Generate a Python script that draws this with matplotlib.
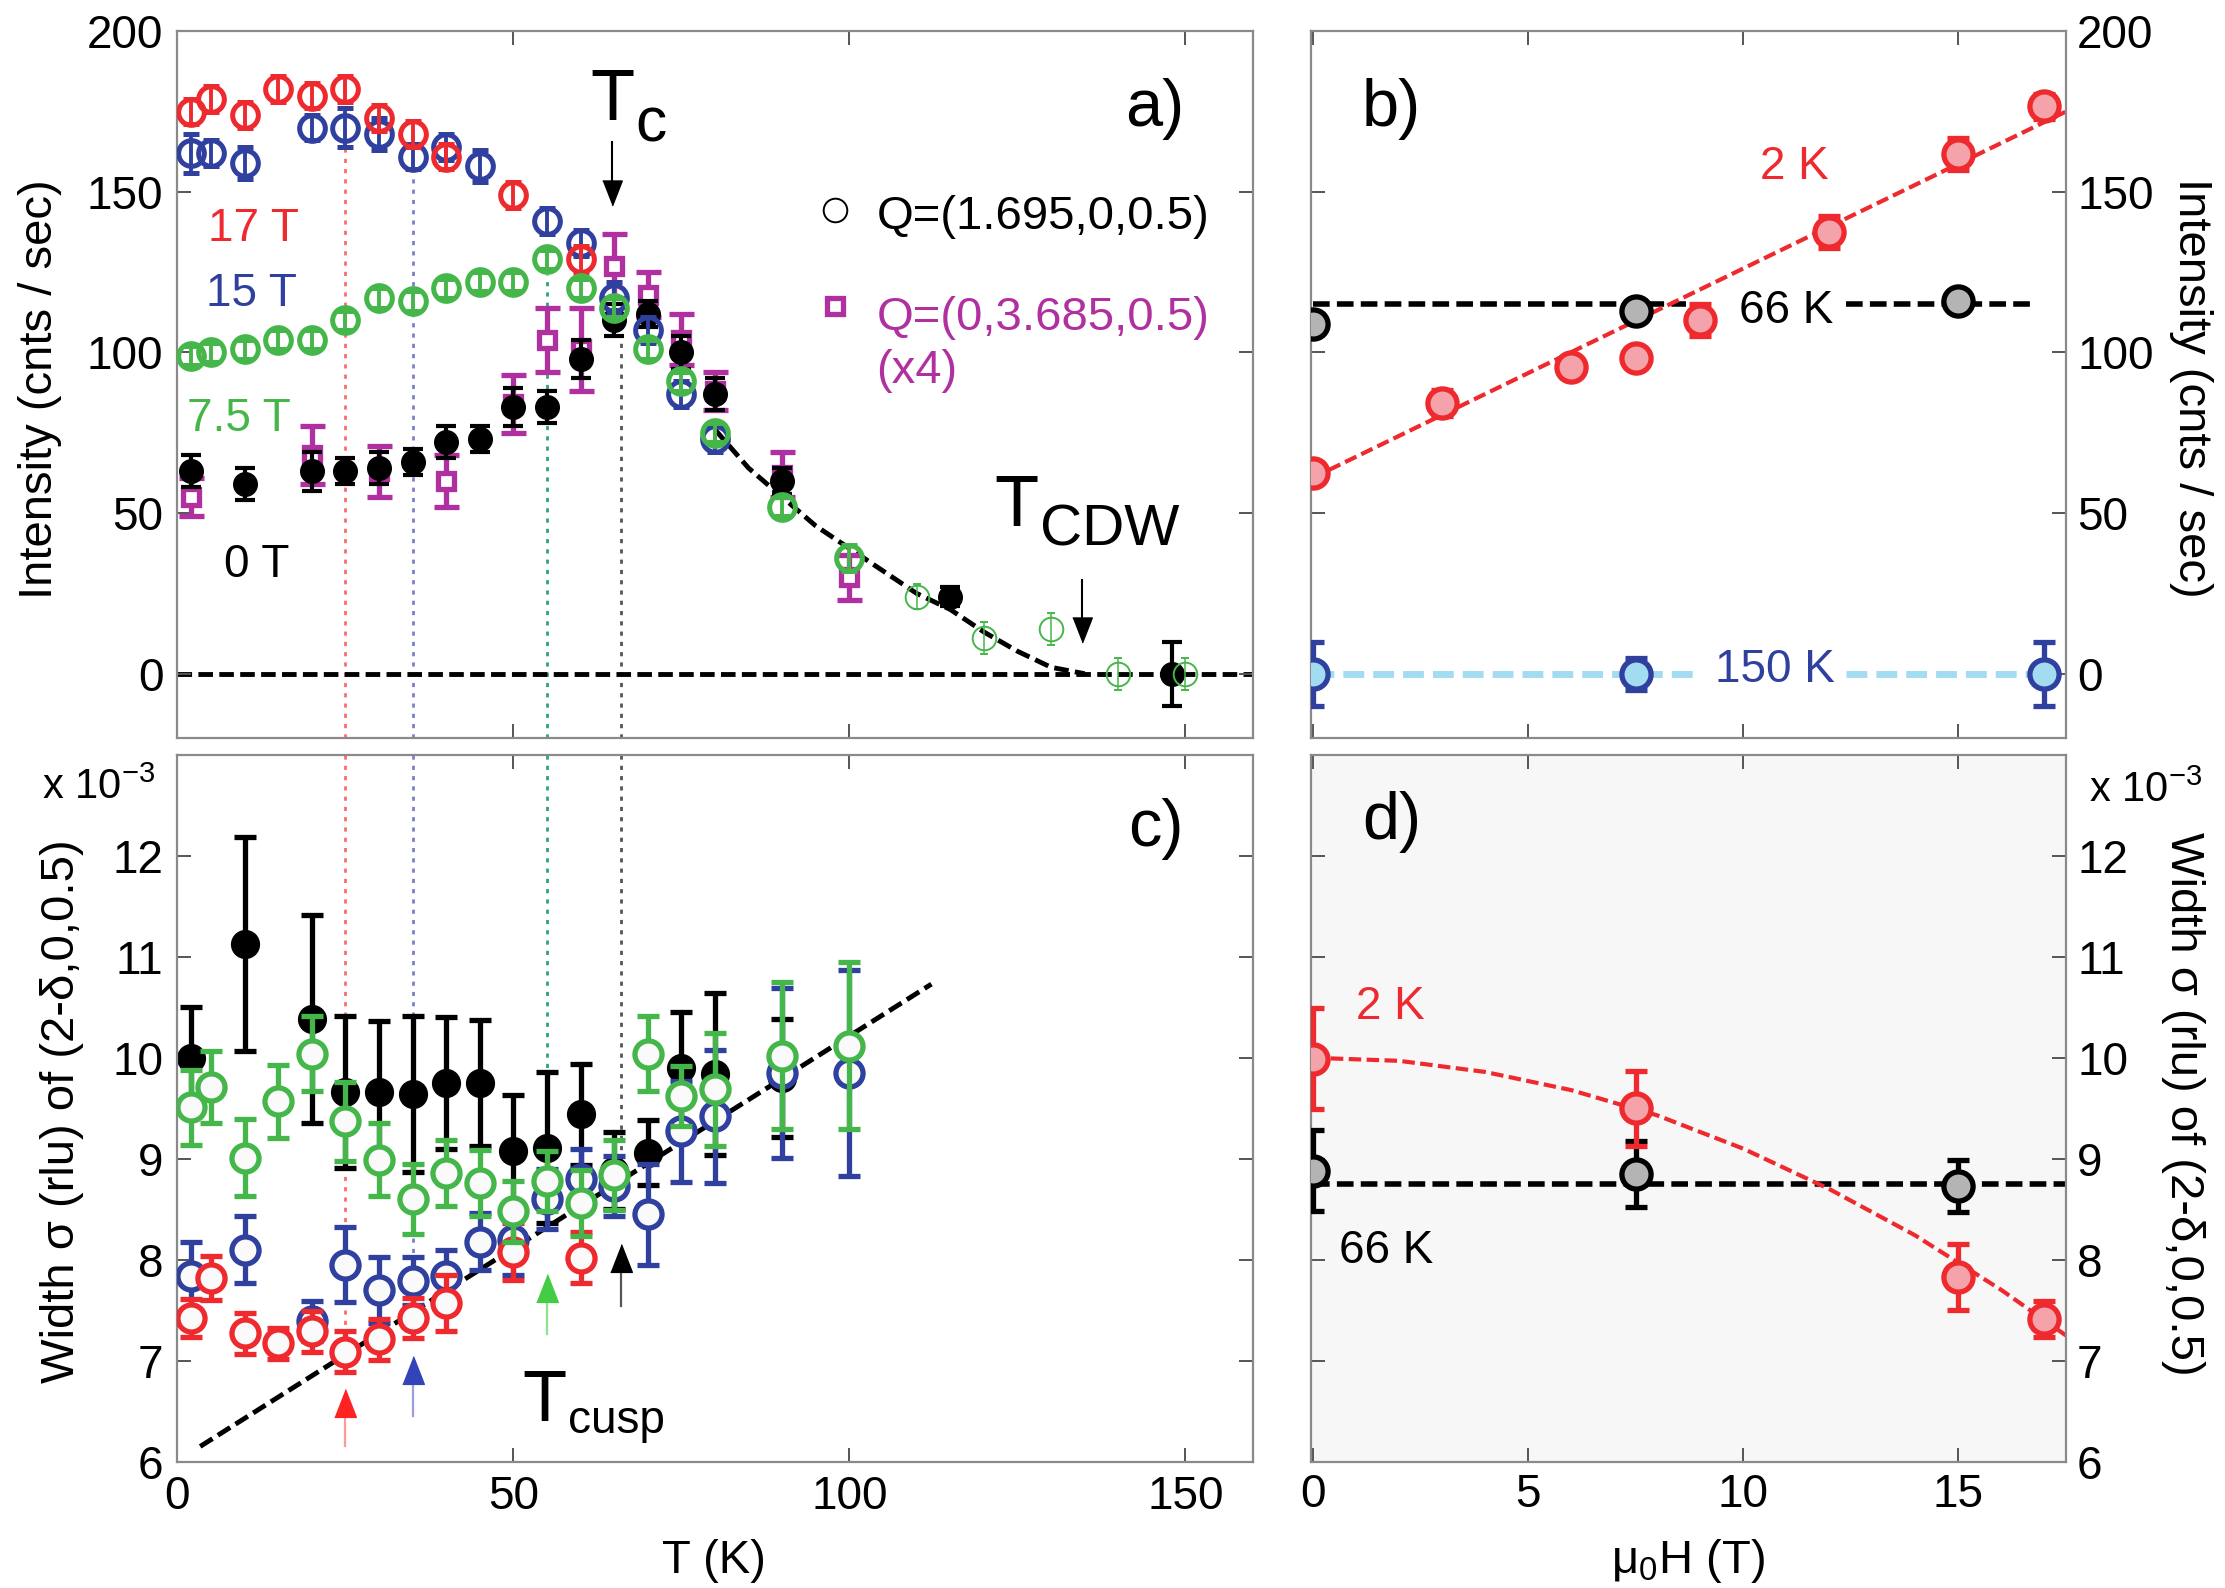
import matplotlib
matplotlib.use('Agg')
import matplotlib.pyplot as plt

plt.rcParams['font.family'] = ['Liberation Sans', 'DejaVu Sans']
plt.rcParams['mathtext.fontset'] = 'custom'
plt.rcParams['mathtext.rm'] = 'Liberation Sans'
plt.rcParams['mathtext.it'] = 'Liberation Sans:italic'

RED = '#ee2a2e'
BLUE = '#2f409f'
GREEN = '#45b74a'
MAG = '#b0309f'
PINK = '#f4a3aa'
GREY = '#b4b4b4'
SKY = '#a3dcf0'
FRAME = '#8a8a8a'

# ---------------- panel a: intensity vs T ----------------
T17 = [2, 5, 10, 15, 20, 25, 30, 35, 40, 50, 60]
I17 = [175, 179, 174, 182, 180, 182, 173, 168, 161, 149, 129]
e17 = [4, 4, 4, 4, 4, 4, 4, 4, 4, 4, 4]

T15 = [2, 5, 10, 20, 25, 30, 35, 40, 45, 55, 60, 65, 70, 75, 80]
I15 = [162, 162, 159, 170, 170, 168, 161, 164, 158, 141, 134, 117, 107, 87, 73]
e15 = [6, 4, 5, 4, 6, 5, 4, 4, 5, 4, 4, 5, 4, 4, 4]

T75 = [2, 5, 10, 15, 20, 25, 30, 35, 40, 45, 50, 55, 60, 65, 70, 75, 80, 90, 100]
I75 = [99, 100, 101, 104, 104, 110, 117, 116, 120, 122, 122, 129, 120, 114, 101, 91, 75, 52, 36]
e75 = [3, 3, 3, 3, 3, 3, 3, 3, 3, 3, 3, 3, 3, 3, 3, 3, 3, 3, 4]
T75_hi = [110, 120, 130, 140, 150]
I75_hi = [24, 11, 14, 0, 0]
e75_hi = [4, 5, 5, 5, 5]

T0 = [2, 10, 20, 25, 30, 35, 40, 45, 50, 55, 60, 65, 70, 75, 80, 90, 115, 148]
I0 = [63, 59, 63, 63, 64, 66, 72, 73, 83, 83, 98, 110, 112, 100, 87, 60, 24, 0]
e0 = [5, 5, 6, 4, 5, 4, 5, 4, 6, 5, 6, 5, 4, 5, 5, 4, 3, 10]

Tq = [2, 20, 30, 40, 50, 55, 60, 65, 70, 75, 80, 90, 100]
Iq = [55, 68, 63, 60, 84, 104, 101, 127, 118, 104, 88, 62, 30]
eq = [6, 9, 8, 8, 9, 10, 13, 10, 7, 8, 6, 7, 7]

Tfit = [80, 85, 90, 95, 100, 105, 110, 115, 120, 125, 130, 135]
Ifit = [76, 64, 55, 46, 39, 32, 25, 20, 13, 7, 2, 0]

# ---------------- panel c: width vs T (x 1e-3) ----------------
Tc0 = [2, 10, 20, 25, 30, 35, 40, 45, 50, 55, 60, 65, 70, 75, 80, 90]
S0 = [10.0, 11.13, 10.38, 9.66, 9.66, 9.64, 9.75, 9.75, 9.08, 9.11, 9.44, 8.88, 9.06, 9.9, 9.84, 9.8]
eS0 = [0.5, 1.06, 1.03, 0.75, 0.7, 0.77, 0.65, 0.62, 0.55, 0.75, 0.5, 0.38, 0.32, 0.55, 0.8, 0.58]

Tcg = [2, 5, 10, 15, 20, 25, 30, 35, 40, 45, 50, 55, 60, 65, 70, 75, 80, 90, 100]
Sg = [9.51, 9.71, 9.01, 9.57, 10.04, 9.37, 8.99, 8.6, 8.86, 8.76, 8.48, 8.78, 8.56, 8.84, 10.04, 9.62, 9.69, 10.02, 10.12]
eSg = [0.37, 0.36, 0.38, 0.36, 0.37, 0.39, 0.36, 0.35, 0.33, 0.33, 0.3, 0.3, 0.33, 0.35, 0.37, 0.3, 0.56, 0.73, 0.83]

Tcb = [2, 10, 20, 25, 30, 35, 40, 45, 50, 55, 60, 65, 70, 75, 80, 90, 100]
Sb = [7.84, 8.10, 7.39, 7.95, 7.70, 7.79, 7.84, 8.18, 8.2, 8.6, 8.8, 8.73, 8.45, 9.27, 9.42, 9.85, 9.85]
eSb = [0.34, 0.33, 0.2, 0.37, 0.33, 0.24, 0.26, 0.28, 0.35, 0.3, 0.3, 0.3, 0.5, 0.5, 0.66, 0.84, 1.02]

Tcr = [2, 5, 10, 15, 20, 25, 30, 35, 40, 50, 60]
Sr = [7.42, 7.82, 7.27, 7.17, 7.29, 7.09, 7.21, 7.42, 7.57, 8.08, 8.02]
eSr = [0.19, 0.22, 0.2, 0.15, 0.2, 0.2, 0.2, 0.2, 0.28, 0.28, 0.25]

Tcfit = [3.4, 112.2]
Scfit = [6.15, 10.73]

# ---------------- panel b: intensity vs field ----------------
H2 = [0, 3, 6, 7.5, 9, 12, 15, 17]
I2 = [62.6, 84.2, 95.4, 98.4, 110, 137.4, 161.7, 176.6]
eI2 = [3, 4, 3, 3, 5, 5, 5, 4]
H2fit = [0, 17.5]
I2fit = [61, 175]

H66 = [0, 7.5, 15]
I66 = [108.8, 113, 116]
eI66 = [3, 3, 3]

H150 = [0, 7.5, 17]
I150 = [0, 0, 0]
eI150 = [10, 5, 10]

# ---------------- panel d: width vs field ----------------
Hd2 = [0, 7.5, 15, 17]
Sd2 = [9.99, 9.5, 7.83, 7.41]
eSd2 = [0.5, 0.37, 0.33, 0.18]
Hd2fit = [0, 2, 4, 6, 8, 10, 12, 14, 16, 17.5]
Sd2fit = [10.0, 9.97, 9.86, 9.68, 9.43, 9.1, 8.7, 8.24, 7.7, 7.25]

Hd66 = [0, 7.5, 15]
Sd66 = [8.88, 8.85, 8.73]
eSd66 = [0.4, 0.33, 0.26]

TXT = 33


def frame(ax):
    for s in ax.spines.values():
        s.set_color(FRAME)
        s.set_linewidth(1.6)
    ax.tick_params(direction='in', length=10, width=1.4, color='#555555',
                   labelsize=33, top=True, right=True, pad=10)


HEAD = [(-0.78, -1), (0.78, -1), (0, 1)]


def up_arrow(ax, x, y0, y1, shaft, head, ms=20):
    ax.plot([x, x], [y0, y1], color=shaft, lw=1.6, zorder=6)
    ax.plot([x], [y1], marker=HEAD, ms=ms, color=head, mec=head, zorder=6)


def down_arrow(ax, x, y0, y1, ms=18):
    ax.plot([x, x], [y0, y1], color='k', lw=1.5, zorder=6)
    ax.plot([x], [y1], marker=[(a, -b) for a, b in HEAD], ms=ms, color='k', zorder=6)


fig = plt.figure(figsize=(22.25, 15.88), dpi=100)
ax_a = fig.add_axes([0.0797, 0.5353, 0.4833, 0.4450])
ax_b = fig.add_axes([0.5891, 0.5353, 0.3394, 0.4450])
ax_c = fig.add_axes([0.0797, 0.0796, 0.4833, 0.4450])
ax_d = fig.add_axes([0.5891, 0.0796, 0.3394, 0.4450])

dash = (0, (3, 1.3))
dot = (0, (1.5, 2.2))

# ---- a ----
ax = ax_a
ax.axhline(0, color='k', lw=3.5, ls=dash, zorder=1.5)
ax.plot(Tfit, Ifit, color='k', lw=3.5, ls=dash, zorder=1.5)
ax.plot([25, 25], [-20, 165], color='#ff6b6b', lw=2, ls=dot, zorder=1)
ax.plot([35, 35], [-20, 156], color='#7c80c8', lw=2, ls=dot, zorder=1)
ax.plot([55, 55], [-20, 124], color='#2fa37a', lw=2, ls=dot, zorder=1)
ax.plot([66, 66], [-20, 104], color='#555555', lw=2, ls=dot, zorder=1)

ax.errorbar(Tq, Iq, yerr=eq, fmt='s', ms=12, mfc='white', mec=MAG, mew=3.8,
            ecolor=MAG, elinewidth=3.8, capsize=9, capthick=3.8, zorder=2)
ax.errorbar(T0, I0, yerr=e0, fmt='o', ms=17, color='k', ecolor='k',
            elinewidth=3, capsize=7, capthick=3, zorder=3)
ax.errorbar(T15, I15, yerr=e15, fmt='o', ms=18.5, mfc='none', mec=BLUE, mew=3.6,
            ecolor=BLUE, elinewidth=2.8, capsize=6, capthick=2.8, zorder=4)
ax.errorbar(T17, I17, yerr=e17, fmt='o', ms=18.5, mfc='none', mec=RED, mew=3.6,
            ecolor=RED, elinewidth=2.8, capsize=6, capthick=2.8, zorder=5)
ax.errorbar(T75, I75, yerr=e75, fmt='o', ms=18.5, mfc='none', mec=GREEN, mew=3.6,
            ecolor=GREEN, elinewidth=2.8, capsize=6, capthick=2.8, zorder=6)
ax.errorbar(T75_hi, I75_hi, yerr=e75_hi, fmt='o', ms=17, mfc='none', mec=GREEN, mew=1.4,
            ecolor=GREEN, elinewidth=1.1, capsize=3, capthick=1.1, zorder=6)

ax.text(4.5, 134.7, '17 T', color=RED, fontsize=TXT)
ax.text(4.3, 114.6, '15 T', color=BLUE, fontsize=TXT)
ax.text(1.5, 75.7, '7.5 T', color=GREEN, fontsize=TXT)
ax.text(7.0, 30.1, '0 T', color='k', fontsize=TXT)

ax.plot([97.9], [144.5], 'o', ms=17, mfc='none', mec='k', mew=1.4)
ax.text(104, 138.5, 'Q=(1.695,0,0.5)', fontsize=34)
ax.plot([97.9], [114.5], 's', ms=12, mfc='white', mec=MAG, mew=3.8)
ax.text(104, 107.1, 'Q=(0,3.685,0.5)', fontsize=34, color=MAG)
ax.text(104, 90.6, '(x4)', fontsize=34, color=MAG)

ax.text(61.4, 172.3, 'T', fontsize=52)
ax.text(68.2, 165.7, 'c', fontsize=45)
down_arrow(ax, 64.7, 165.6, 149.5)
ax.text(121.5, 45.9, 'T', fontsize=52)
ax.text(128.3, 40.0, 'CDW', fontsize=42)
down_arrow(ax, 134.6, 29.2, 13.5)
ax.text(141, 170.6, 'a)', fontsize=48)

ax.set_xlim(0, 160)
ax.set_ylim(-20, 200)
ax.set_xticks([0, 50, 100, 150])
ax.set_yticks([0, 50, 100, 150, 200])
frame(ax)
ax.tick_params(labelbottom=False)

# ---- c ----
ax = ax_c
ax.plot(Tcfit, Scfit, color='k', lw=3.5, ls=dash, zorder=1.5)
ax.plot([25, 25], [13, 7.09], color='#ff6b6b', lw=2, ls=dot, zorder=1)
ax.plot([35, 35], [13, 7.79], color='#7c80c8', lw=2, ls=dot, zorder=1)
ax.plot([55, 55], [13, 8.78], color='#2fa37a', lw=2, ls=dot, zorder=1)
ax.plot([66, 66], [13, 8.88], color='#555555', lw=2, ls=dot, zorder=1)

ax.errorbar(Tc0, S0, yerr=eS0, fmt='o', ms=20, color='k', ecolor='k',
            elinewidth=3.8, capsize=8, capthick=3.8, zorder=2)
ax.errorbar(Tcb, Sb, yerr=eSb, fmt='o', ms=19.5, mfc='#fafafa', mec=BLUE, mew=3.8,
            ecolor=BLUE, elinewidth=3.8, capsize=8, capthick=3.8, zorder=3)
ax.errorbar(Tcr, Sr, yerr=eSr, fmt='o', ms=19.5, mfc='#fafafa', mec=RED, mew=3.8,
            ecolor=RED, elinewidth=3.8, capsize=8, capthick=3.8, zorder=4)
ax.errorbar(Tcg, Sg, yerr=eSg, fmt='o', ms=19.5, mfc='#fafafa', mec=GREEN, mew=3.8,
            ecolor=GREEN, elinewidth=3.8, capsize=8, capthick=3.8, zorder=5)

up_arrow(ax, 25, 6.15, 6.58, '#ff9a9a', '#ff2222')
up_arrow(ax, 35, 6.45, 6.91, '#9a9ee0', '#3344bb')
up_arrow(ax, 55, 7.26, 7.72, '#90e090', '#44cc44')
up_arrow(ax, 66, 7.54, 8.02, '#555555', 'k')
ax.text(51.4, 6.40, 'T', fontsize=52)
ax.text(58.1, 6.28, 'cusp', fontsize=33)
ax.text(141.5, 12.1, 'c)', fontsize=48)

ax.set_xlim(0, 160)
ax.set_ylim(6, 13)
ax.set_xticks([0, 50, 100, 150])
ax.set_yticks([6, 7, 8, 9, 10, 11, 12])
frame(ax)

# ---- b ----
ax = ax_b
ax.plot(H2fit, I2fit, color=RED, lw=3, ls=dash, zorder=1.5)
ax.plot([0, 8.66], [115.2, 115.2], color='k', lw=4, ls=dash, zorder=1.4)
ax.plot([12.4, 16.7], [115.2, 115.2], color='k', lw=4, ls=dash, zorder=1.4)
ax.plot([0, 9.0], [0, 0], color=SKY, lw=5, ls=dash, zorder=1.4)
ax.plot([12.4, 16.7], [0, 0], color=SKY, lw=5, ls=dash, zorder=1.4)

ax.errorbar(H66, I66, yerr=eI66, fmt='o', ms=21, mfc=GREY, mec='k', mew=3.8,
            ecolor='k', elinewidth=3.8, capsize=8, capthick=3.8, zorder=3)
ax.errorbar(H2, I2, yerr=eI2, fmt='o', ms=21, mfc=PINK, mec=RED, mew=3.8,
            ecolor=RED, elinewidth=3.8, capsize=8, capthick=3.8, zorder=4)
ax.errorbar(H150, I150, yerr=eI150, fmt='o', ms=21, mfc=SKY, mec=BLUE, mew=3.8,
            ecolor=BLUE, elinewidth=3.8, capsize=8, capthick=3.8, zorder=4)

ax.text(10.4, 154, '2 K', color=RED, fontsize=TXT)
ax.text(9.9, 109.3, '66 K', color='k', fontsize=TXT)
ax.text(9.35, -2.7, '150 K', color=BLUE, fontsize=TXT)
ax.text(1.14, 170.6, 'b)', fontsize=48)

ax.set_xlim(-0.05, 17.5)
ax.set_ylim(-20, 200)
ax.set_xticks([0, 5, 10, 15])
ax.set_yticks([0, 50, 100, 150, 200])
frame(ax)
ax.tick_params(labelbottom=False, labelleft=False, labelright=True, pad=8)

# ---- d ----
ax = ax_d
ax.set_facecolor('#f7f7f7')
ax.plot(Hd2fit, Sd2fit, color=RED, lw=3, ls=dash, zorder=1.5)
ax.plot([0, 17.5], [8.75, 8.75], color='k', lw=4, ls=dash, zorder=1.4)
ax.errorbar(Hd66, Sd66, yerr=eSd66, fmt='o', ms=21, mfc=GREY, mec='k', mew=3.8,
            ecolor='k', elinewidth=3.8, capsize=8, capthick=3.8, zorder=3)
ax.errorbar(Hd2, Sd2, yerr=eSd2, fmt='o', ms=21, mfc=PINK, mec=RED, mew=3.8,
            ecolor=RED, elinewidth=3.8, capsize=8, capthick=3.8, zorder=4)
ax.text(1.0, 10.38, '2 K', color=RED, fontsize=TXT)
ax.text(0.6, 7.97, '66 K', color='k', fontsize=TXT)
ax.text(1.14, 12.17, 'd)', fontsize=48)

ax.set_xlim(-0.05, 17.5)
ax.set_ylim(6, 13)
ax.set_xticks([0, 5, 10, 15])
ax.set_yticks([6, 7, 8, 9, 10, 11, 12])
frame(ax)
ax.tick_params(labelleft=False, labelright=True, pad=8)

# ---- axis labels ----
fig.text(0.018, 0.755, 'Intensity (cnts / sec)', rotation=90, ha='center', va='center', fontsize=34)
fig.text(0.028, 0.300, 'Width σ (rlu) of (2-δ,0,0.5)', rotation=90, ha='center', va='center', fontsize=34)
fig.text(0.9847, 0.756, 'Intensity (cnts / sec)', rotation=270, ha='center', va='center', fontsize=34)
fig.text(0.981, 0.305, 'Width σ (rlu) of (2-δ,0,0.5)', rotation=270, ha='center', va='center', fontsize=34)
fig.text(0.321, 0.017, 'T (K)', ha='center', va='center', fontsize=34)
fig.text(0.7587, 0.017, 'μ$_\\mathregular{0}$H (T)', ha='center', va='center', fontsize=34)
fig.text(0.019, 0.497, 'x 10$^\\mathregular{-3}$', fontsize=30)
fig.text(0.939, 0.495, 'x 10$^\\mathregular{-3}$', fontsize=30)

fig.savefig('out.png', dpi=100)
